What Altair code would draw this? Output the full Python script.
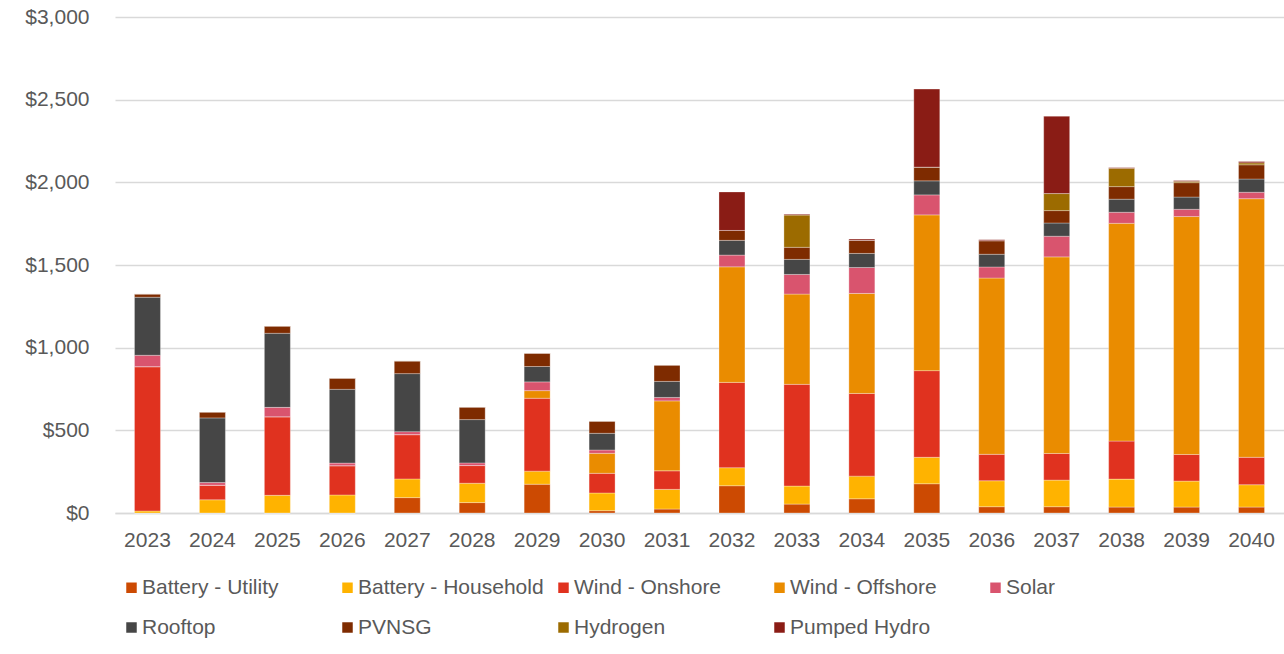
import altair as alt
import pandas as pd

years = [str(y) for y in range(2023, 2041)]

series = ["Battery - Utility", "Battery - Household", "Wind - Onshore", "Wind - Offshore",
          "Solar", "Rooftop", "PVNSG", "Hydrogen", "Pumped Hydro"]
colors = ["#CC4A02", "#FFB300", "#E0321F", "#EA8C00", "#D9546E",
          "#464646", "#7E2B00", "#9C6B00", "#8A1C15"]

battery_utility = [0, 0, 0, 0, 93, 63, 174, 14, 24, 165, 54, 86, 177, 38, 38, 36, 36, 36]
battery_household = [12, 80, 107, 109, 113, 117, 79, 107, 119, 109, 109, 137, 160, 157, 161, 169, 157, 135]
wind_onshore = [873, 88, 475, 177, 268, 107, 441, 119, 112, 516, 615, 500, 524, 160, 161, 230, 161, 166]
wind_offshore = [0, 0, 0, 0, 0, 0, 46, 121, 423, 699, 546, 605, 942, 1066, 1189, 1317, 1439, 1564]
solar = [69, 16, 57, 16, 18, 16, 53, 20, 21, 71, 119, 157, 121, 67, 125, 67, 44, 39]
rooftop = [351, 391, 448, 446, 351, 262, 93, 101, 97, 89, 91, 85, 85, 77, 80, 79, 74, 80]
pvnsg = [20, 36, 44, 68, 77, 76, 81, 74, 99, 60, 73, 79, 83, 82, 75, 76, 87, 86]
hydrogen = [0, 0, 0, 0, 0, 0, 0, 0, 0, 0, 195, 0, 0, 0, 103, 111, 8, 12]
pumped_hydro = [0, 0, 0, 0, 0, 0, 0, 0, 0, 233, 5, 8, 472, 6, 468, 4, 5, 8]

values = [battery_utility, battery_household, wind_onshore, wind_offshore,
          solar, rooftop, pvnsg, hydrogen, pumped_hydro]

rows = []
for i, (name, vals) in enumerate(zip(series, values)):
    for y, v in zip(years, vals):
        rows.append({"Year": y, "Technology": name, "Value": v, "order": i})
df = pd.DataFrame(rows)

FONT = "Liberation Sans"
GRAY = "#595959"

chart = alt.Chart(df).mark_bar(stroke="white", strokeWidth=0.6, strokeOpacity=0.5).encode(
    x=alt.X("Year:N", sort=years, title=None,
            scale=alt.Scale(paddingInner=0.6, paddingOuter=0.3),
            axis=alt.Axis(labelAngle=0, ticks=False, labelPadding=16, labelFontSize=21,
                          labelColor=GRAY, labelFont=FONT, domainColor="#D9D9D9",
                          domainWidth=1.5, grid=False)),
    y=alt.Y("sum(Value):Q", title=None, stack="zero",
            scale=alt.Scale(domain=[0, 3000], nice=False),
            axis=alt.Axis(values=[0, 500, 1000, 1500, 2000, 2500, 3000], format="$,.0f",
                          ticks=False, domain=False, labelPadding=26, labelFontSize=21,
                          labelColor=GRAY, labelFont=FONT, gridColor="#D9D9D9", gridWidth=1.5)),
    color=alt.Color("Technology:N", sort=series,
                    scale=alt.Scale(domain=series, range=colors),
                    legend=alt.Legend(title=None, orient="none", legendX=6, legendY=560,
                                      direction="horizontal", columns=5, gridAlign="all",
                                      columnPadding=9, rowPadding=18,
                                      symbolType="square", symbolSize=110, symbolStrokeWidth=0,
                                      labelFontSize=21, labelColor=GRAY, labelFont=FONT,
                                      labelOffset=0, labelLimit=400, padding=0)),
    order=alt.Order("order:Q", sort="ascending"),
).properties(
    width=1169, height=496,
    background="white",
    autosize=alt.AutoSizeParams(type="none"),
    padding={"left": 115, "top": 17, "right": 0, "bottom": 141},
).configure_view(strokeWidth=0, stroke=None)

chart.save("out.html", embed_options={"renderer": "svg", "actions": False})
